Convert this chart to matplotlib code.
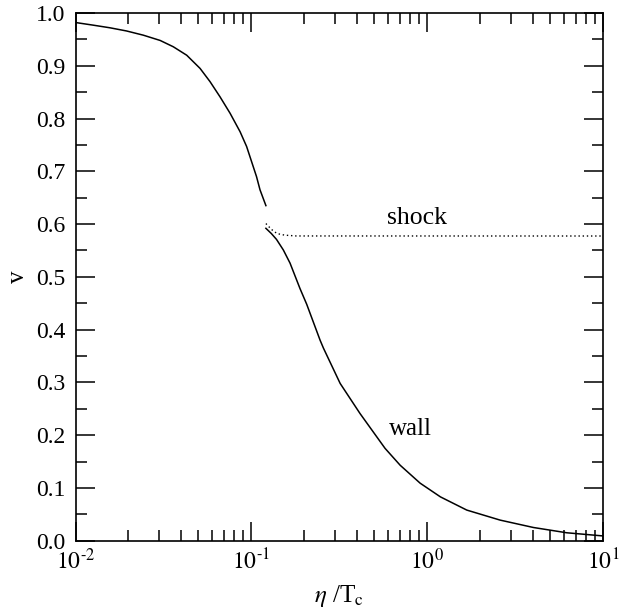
import numpy as np
import matplotlib
matplotlib.use('Agg')
import matplotlib.pyplot as plt
from matplotlib.ticker import MultipleLocator, LogLocator, NullFormatter, FuncFormatter, FormatStrFormatter

plt.rcParams['font.family'] = ['Liberation Serif', 'DejaVu Serif']
plt.rcParams['mathtext.fontset'] = 'stix'

# wall velocity, branch before the jump (eta/Tc, v)
wall_hi_x = [0.0100, 0.0126, 0.0157, 0.0195, 0.0243, 0.0303, 0.0360, 0.0429, 0.0511, 0.0582,
             0.0664, 0.0757, 0.0863, 0.0940, 0.1070, 0.1120, 0.1210]
wall_hi_v = [0.982, 0.977, 0.972, 0.966, 0.958, 0.948, 0.936, 0.920, 0.895, 0.870,
             0.841, 0.810, 0.775, 0.747, 0.690, 0.665, 0.635]

# wall velocity, branch after the jump
wall_lo_x = [0.121, 0.130, 0.139, 0.152, 0.166, 0.189, 0.2065, 0.246, 0.257, 0.320, 0.415,
             0.576, 0.702, 0.912, 1.19, 1.68, 2.60, 4.02, 6.22, 10.0]
wall_lo_v = [0.592, 0.582, 0.571, 0.551, 0.526, 0.478, 0.448, 0.380, 0.365, 0.298, 0.241,
             0.175, 0.143, 0.109, 0.083, 0.058, 0.039, 0.025, 0.015, 0.009]

# shock front velocity
shock_x = [0.121, 0.130, 0.140, 0.155, 0.180, 10.0]
shock_v = [0.601, 0.590, 0.582, 0.579, 0.5775, 0.5774]

fig = plt.figure(figsize=(6.33, 6.14), dpi=100)
ax = fig.add_axes([0.1193, 0.1194, 0.8333, 0.8594])

ax.plot(wall_hi_x, wall_hi_v, color='black', lw=1.1)
ax.plot(wall_lo_x, wall_lo_v, color='black', lw=1.1)
ax.plot(shock_x, shock_v, color='black', lw=1.0, linestyle=(0, (1, 2)))

ax.text(0.876, 0.600, 'shock', fontsize=18.5, ha='center', va='baseline')
ax.text(0.80, 0.200, 'wall', fontsize=18, ha='center', va='baseline')

ax.set_xscale('log')
ax.set_xlim(1e-2, 1e1)
ax.set_ylim(0, 1)

ax.yaxis.set_major_locator(MultipleLocator(0.1))
ax.yaxis.set_minor_locator(MultipleLocator(0.05))
ax.yaxis.set_major_formatter(FormatStrFormatter('%.1f'))
ax.xaxis.set_major_locator(LogLocator(base=10, numticks=10))
ax.xaxis.set_minor_locator(LogLocator(base=10, subs=np.arange(2, 10), numticks=10))
ax.xaxis.set_minor_formatter(NullFormatter())
ax.xaxis.set_major_formatter(FuncFormatter(
    lambda x, pos: r'$10^{\text{-}%d}$' % round(-np.log10(x)) if x < 1 else r'$10^{%d}$' % round(np.log10(x))))

ax.tick_params(which='both', direction='in', top=True, right=True, width=1.1)
ax.tick_params(which='major', length=13.5, labelsize=17)
ax.tick_params(axis='x', which='major', pad=6)
ax.tick_params(axis='y', which='major', pad=7)
ax.tick_params(which='minor', length=8)
for s in ax.spines.values():
    s.set_linewidth(1.2)

ax.set_xlabel(r'$\eta$ /T$_{\rm c}$', fontsize=18, labelpad=6)
ax.set_ylabel('v', fontsize=18, labelpad=5)

fig.savefig('out.png', dpi=100)
